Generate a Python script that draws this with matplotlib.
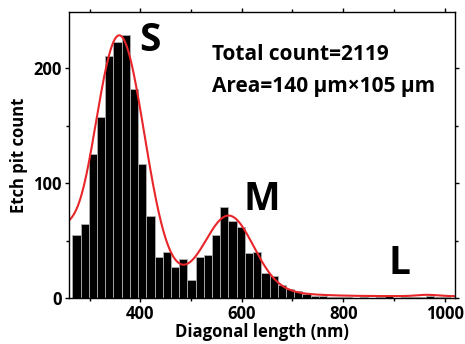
import numpy as np
import matplotlib
matplotlib.use("Agg")
import matplotlib.pyplot as plt

plt.rcParams['font.family'] = ['Open Sans', 'DejaVu Sans']
plt.rcParams['font.weight'] = 'bold'

# histogram: bins start at 266 nm, 16.2 nm wide
bin_start = 266
bin_width = 16.2
counts = [55, 64, 125, 158, 211, 223, 229, 182, 117, 71,
          36, 40, 27, 34, 16, 36, 37, 55, 79, 67,
          62, 39, 40, 22, 19, 11, 8, 6, 3, 2,
          2, 1, 1, 1, 0, 1, 0, 1, 2, 0,
          1, 1, 1, 2, 1, 1, 0]

# multi-peak gaussian fit: (center, sigma, amplitude)
fit_offset = 1.5
fit_peaks = [(358, 50, 224),   # S
             (575, 48, 63),    # M
             (240, 28, 42),
             (520, 120, 8),
             (965, 20, 1.2)]   # L

edges = bin_start + bin_width * np.arange(len(counts))
xs = np.linspace(255, 1025, 800)
fit = np.full_like(xs, fit_offset)
for c, s, a in fit_peaks:
    fit += a * np.exp(-(xs - c) ** 2 / (2 * s ** 2))

fig = plt.figure(figsize=(4.65, 3.44), dpi=100)
ax = fig.add_axes([0.148, 0.134, 0.830, 0.831])

ax.bar(edges, counts, width=bin_width, align='edge', color='black',
       edgecolor='#b0b0b0', linewidth=0.6)
ax.plot(xs, fit, color='#e8262a', lw=1.5)

ax.set_xlim(259, 1020)
ax.set_ylim(0, 249)
ax.set_xticks([400, 600, 800, 1000])
ax.set_xticks([300, 500, 700, 900], minor=True)
ax.set_yticks([0, 100, 200])
ax.set_yticks([50, 150], minor=True)
ax.tick_params(which='both', direction='out', length=3, width=1,
               top=True, right=True, labelsize=12, pad=2)
ax.tick_params(which='minor', length=2)
for sp in ax.spines.values():
    sp.set_linewidth(1)

ax.set_xlabel('Diagonal length (nm)', fontsize=12, fontweight='bold', labelpad=0)
ax.set_ylabel('Etch pit count', fontsize=12, fontweight='bold', labelpad=4)

ax.text(0.21, 0.90, 'S', transform=ax.transAxes, fontsize=28,
        fontweight='bold', ha='center', va='center')
ax.text(0.50, 0.345, 'M', transform=ax.transAxes, fontsize=28,
        fontweight='bold', ha='center', va='center')
ax.text(0.857, 0.12, 'L', transform=ax.transAxes, fontsize=28,
        fontweight='bold', ha='center', va='center')
ax.text(0.372, 0.85, 'Total count=2119', transform=ax.transAxes,
        fontsize=15, fontweight='bold', ha='left', va='center')
ax.text(0.372, 0.74, 'Area=140 \u03bcm\u00d7105 \u03bcm', transform=ax.transAxes,
        fontsize=15, fontweight='bold', ha='left', va='center')

fig.savefig('out.png', dpi=100)
